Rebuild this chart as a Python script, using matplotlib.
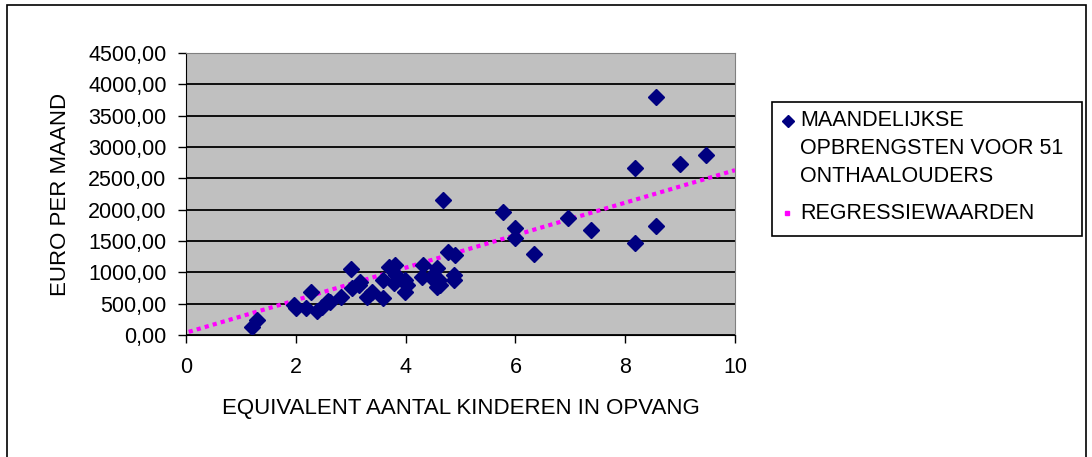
import matplotlib
matplotlib.use("Agg")
import matplotlib.pyplot as plt
from matplotlib.patches import Rectangle
from matplotlib.lines import Line2D
from matplotlib.ticker import FuncFormatter

plt.rcParams['font.family'] = ['Liberation Sans', 'DejaVu Sans']

# equivalent aantal kinderen / euro per maand
kinderen = [1.20, 1.30, 1.97, 2.00, 2.19, 2.27, 2.39, 2.47, 2.59, 2.62, 2.82,
            3.00, 3.02, 3.15, 3.17, 3.29, 3.39, 3.59, 3.59, 3.70, 3.79, 3.81,
            3.82, 3.99, 3.99, 4.02, 4.29, 4.32, 4.47, 4.57, 4.57, 4.60, 4.63,
            4.69, 4.78, 4.88, 4.88, 4.90, 5.78, 5.99, 5.99, 6.33, 6.96, 7.37,
            8.18, 8.18, 8.57, 8.57, 8.99, 9.47]
euro = [130, 240, 480, 430, 430, 690, 390, 450, 550, 520, 610,
        1055, 745, 800, 850, 610, 690, 585, 877, 1090, 825, 1117,
        950, 877, 691, 798, 931, 1117, 931, 1064, 771, 880, 798,
        2154, 1330, 957, 877, 1277, 1968, 1702, 1543, 1292, 1862, 1675,
        2660, 1473, 3793, 1744, 2724, 2872]

# regressiewaarden
regr_x = [0.05, 10.0]
regr_y = [50, 2630]

W, H = 1092, 457
fig = plt.figure(figsize=(W / 100, H / 100), dpi=100)

# outer chart border
fig.patches.append(Rectangle((7 / W, -0.05), (1086 - 7) / W, 1.05 - 5 / H,
                             transform=fig.transFigure, fill=False,
                             edgecolor='black', linewidth=1.2))

ax = fig.add_axes([186 / W, 1 - 335 / H, (735 - 186) / W, (335 - 53) / H])
ax.set_facecolor('#C0C0C0')
ax.set_xlim(0, 10)
ax.set_ylim(0, 4500)
ax.set_yticks(range(0, 4501, 500))
ax.set_xticks(range(0, 11, 2))
ax.yaxis.set_major_formatter(FuncFormatter(lambda v, p: f"{v:.2f}".replace('.', ',')))
ax.grid(axis='y', color='black', linewidth=1.3)
ax.set_axisbelow(True)
for s in ['top', 'right']:
    ax.spines[s].set_color('#808080')
for s in ['left', 'bottom']:
    ax.spines[s].set_color('black')
ax.tick_params(direction='out', length=6, width=1, labelsize=15.5, colors='black', pad=8)
ax.tick_params(axis='x', pad=10)

ax.plot(regr_x, regr_y, color='#FF00FF', linewidth=3, linestyle=(0, (1, 1)))
ax.plot(kinderen, euro, 'D', color='#000080', markersize=8, linestyle='none')

ax.set_xlabel("EQUIVALENT AANTAL KINDEREN IN OPVANG", fontsize=16, labelpad=14)
ax.set_ylabel("EURO PER MAAND", fontsize=16, labelpad=12)

# legend box
fig.patches.append(Rectangle((772 / W, 1 - 236 / H), (1082 - 772) / W, (236 - 102) / H,
                             transform=fig.transFigure, fill=False,
                             edgecolor='black', linewidth=1.2))
fig.lines.append(Line2D([788 / W], [1 - 121 / H], marker='D', markersize=6,
                        color='#000080', transform=fig.transFigure))
fig.lines.append(Line2D([787 / W], [1 - 213 / H], marker='s', markersize=3,
                        color='#FF00FF', transform=fig.transFigure))
for txt, yy in [("MAANDELIJKSE", 121), ("OPBRENGSTEN VOOR 51", 149),
                ("ONTHAALOUDERS", 176), ("REGRESSIEWAARDEN", 213)]:
    fig.text(800 / W, 1 - yy / H, txt, fontsize=15.5, va='center', ha='left')

fig.savefig("out.png", dpi=100)
